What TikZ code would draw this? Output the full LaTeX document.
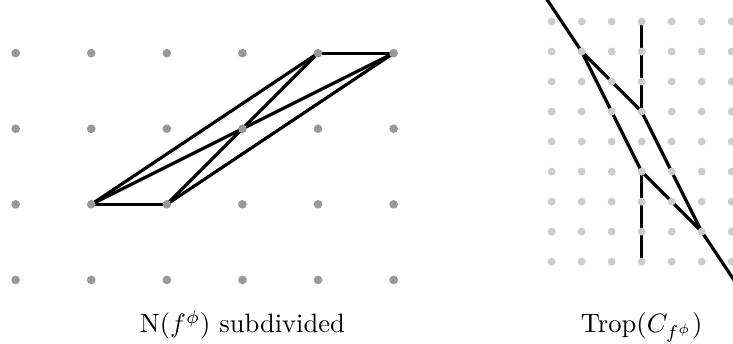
\documentclass[tikz,border=0pt]{standalone}
\usepackage{amsmath,amssymb}
\usepackage{xcolor}
\usepackage{tikz}

\begin{document}
\begin{tikzpicture}[
  edge/.style={line width=1.2pt, line join=round, draw=black},
  ptdark/.style={circle, fill=black!40, inner sep=0pt, minimum size=1.15mm},
  ptlight/.style={circle, fill=black!20, inner sep=0pt, minimum size=1.05mm},
  lbl/.style={anchor=base, inner sep=0pt}]

\useasboundingbox (0,0) rectangle (9.696,4.550);

% Newton polygon with its subdivision
\begin{scope}[shift={(0.207,0.847)}]
\coordinate (a) at (1,1);
\coordinate (b) at (2,1);
\coordinate (c) at (3,2);
\coordinate (d) at (4,3);
\coordinate (e) at (5,3);

\draw[edge] (a) -- (b);
\draw[edge] (d) -- (e);
\draw[edge] (a) -- (d);
\draw[edge] (b) -- (e);
\draw[edge] (a) -- (c);
\draw[edge] (b) -- (c);
\draw[edge] (c) -- (d);
\draw[edge] (c) -- (e);

\foreach \i in {0,...,5}
  \foreach \j in {0,...,3}
    \node[ptdark] (n-\i-\j) at (\i,\j) {};

\node[lbl] (newton) at (3,-0.70) {N$(f^{\phi})$ subdivided};
\end{scope}

% tropical curve
\begin{scope}[shift={(7.297,1.089)}, x=0.397cm, y=0.397cm]
\coordinate (p) at (1,7);
\coordinate (q) at (3,5);
\coordinate (r) at (3,3);
\coordinate (s) at (5,1);
\coordinate (p-end) at (-0.2,8.8);
\coordinate (q-end) at (3,8);
\coordinate (r-end) at (3,0);
\coordinate (s-end) at (6.2,-0.8);

\draw[edge] (p-end) -- (p);
\draw[edge] (p) -- (q);
\draw[edge] (p) -- (r);
\draw[edge] (q) -- (s);
\draw[edge] (r) -- (s);
\draw[edge] (q) -- (q-end);
\draw[edge] (r) -- (r-end);
\draw[edge] (s) -- (s-end);

\foreach \i in {0,...,6}
  \foreach \j in {0,...,8}
    \node[ptlight] (t-\i-\j) at (\i,\j) {};

\node[lbl] (trop) at (3,-2.375) {Trop$(C_{f^{\phi}})$};
\end{scope}
\end{tikzpicture}
\end{document}
